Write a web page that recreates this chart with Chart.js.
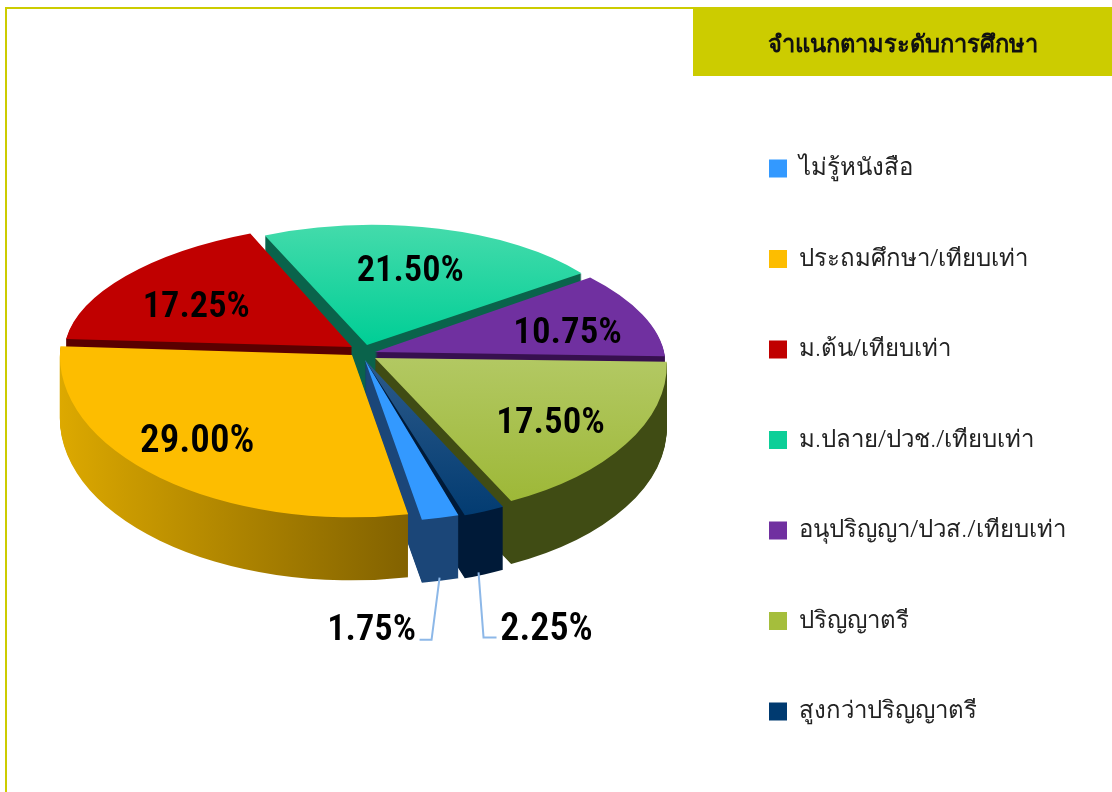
<!DOCTYPE html>
<html lang="th">
<head>
<meta charset="UTF-8">
<title>จำแนกตามระดับการศึกษา</title>
<script src="https://cdn.jsdelivr.net/npm/chart.js"></script>
<style>
  html, body { margin: 0; background: #fff; overflow: hidden; }
  #wrap { position: relative; width: 1112px; height: 792px; }
  #frame { position: absolute; left: 5px; top: 7px; right: 0; bottom: 0; border-left: 2px solid #cccc00; border-top: 2px solid #cccc00; pointer-events: none; }
</style>
</head>
<body>
<div id="wrap">
  <canvas id="pie" width="1112" height="792"></canvas>
  <div id="frame"></div>
</div>
<script>
const titleText = 'จำแนกตามระดับการศึกษา';
const categories = ['ไม่รู้หนังสือ', 'ประถมศึกษา/เทียบเท่า', 'ม.ต้น/เทียบเท่า', 'ม.ปลาย/ปวช./เทียบเท่า', 'อนุปริญญา/ปวส./เทียบเท่า', 'ปริญญาตรี', 'สูงกว่าปริญญาตรี'];
const values = [1.75, 29.0, 17.25, 21.5, 10.75, 17.5, 2.25];
const colors = ['#3399ff', '#fdbd00', '#c00000', '#0ccf98', '#7030a0', '#a5be3c', '#003a70'];
const topLight = ['#3399ff', '#fdbd00', '#c00000', '#44dbab', '#7030a0', '#b2c862', '#2c5a8a'];
const topDark = ['#3399ff', '#fdbd00', '#c00000', '#00ce96', '#7030a0', '#9bb632', '#003a70'];
const wallLeft = ['#1b4678', '#deaa00', '#5a0000', '#0a634b', '#37104f', '#404c14', '#001a38'];
const wallRight = ['#1b4678', '#6e5200', '#5a0000', '#0a634b', '#37104f', '#404c14', '#001a38'];
const labelText = ['1.75%', '29.00%', '17.25%', '21.50%', '10.75%', '17.50%', '2.25%'];

// per slice placement of the fake 3d pie
const explodeX = [13, 0, 0, 15, 23, 23, 13];
const explodeY = [10, 5, -3, -5, 2, 8, 10];
const stretch = [1.15, 0.986, 0.968, 0.8875, 0.98, 0.986, 1];
const skew = [0.139, 0.073, 0.252, 0.156, -0.11, 0, 0];
const flatten = [0.55, 0.548, 0.42, 0.405, 0.42, 0.536, 0.55];
const tilt = 0.02;
const paintOrder = [3, 2, 4, 5, 6, 0, 1];
const labelDx = [-38.6, -39.5, -20, 0, 32, 25, 110];
const labelDy = [177, 11, 0, -3, 7, 17, 181];
const labelSize = [36.5, 39, 36.5, 36.5, 37, 37, 38];
// leader lines of the two labels outside the pie, relative to the label
const leaders = { 0: [[48, 9], [60, 9], [68, -53]], 6: [[-50, 7], [-63, 7], [-68, -58]] };

const pieX = 352, pieY = 350, depth = 63, legendX = 769;

const pie3d = {
  id: 'pie3d',
  afterLayout(chart) {
    const l = chart.legend;
    const dx = legendX - l.options.labels.padding - l.left;
    l.left += dx;
    l.right += dx;
  },
  beforeDraw(chart) {
    const c = chart.ctx;
    c.save();
    c.fillStyle = '#cccc00';
    c.fillRect(693, 8, 419, 68);
    c.fillStyle = '#111';
    c.font = 'bold 23.7px "Noto Sans", sans-serif';
    c.textAlign = 'center';
    c.textBaseline = 'middle';
    c.fillText(titleText, 903, 45);
    c.restore();
  },
  beforeDatasetDraw(chart) {
    const c = chart.ctx;
    const arcs = chart.getDatasetMeta(0).data;
    paintOrder.forEach(i => {
      const a = arcs[i];
      const saved = a.options.backgroundColor;
      const place = dy => {
        c.translate(pieX + explodeX[i], pieY + explodeY[i] + dy);
        c.transform(stretch[i], tilt, -skew[i] * flatten[i], flatten[i], 0, 0);
        c.translate(-a.x, -a.y);
      };
      // wall, stamped from the bottom up
      for (let d = depth; d > 0; d--) {
        c.save();
        place(d);
        const g = c.createLinearGradient(a.x - 300, 0, a.x + 150, 0);
        g.addColorStop(0, wallLeft[i]);
        g.addColorStop(1, wallRight[i]);
        a.options.backgroundColor = g;
        a.draw(c);
        c.restore();
      }
      c.save();
      place(0);
      const mid = (a.startAngle + a.endAngle) / 2;
      const back = Math.sin(mid) < 0;
      const t = c.createLinearGradient(0, back ? a.y - a.outerRadius : a.y, 0, back ? a.y : a.y + a.outerRadius);
      t.addColorStop(0, topLight[i]);
      t.addColorStop(1, topDark[i]);
      a.options.backgroundColor = t;
      a.draw(c);
      c.restore();
      a.options.backgroundColor = saved;
    });
    return false;
  },
  afterDatasetsDraw(chart) {
    const c = chart.ctx;
    const arcs = chart.getDatasetMeta(0).data;
    c.save();
    c.textAlign = 'center';
    c.textBaseline = 'middle';
    arcs.forEach((a, i) => {
      const mid = (a.startAngle + a.endAngle) / 2;
      const r = a.outerRadius * 0.6;
      const dy = Math.sin(mid) * r * flatten[i];
      const x = pieX + explodeX[i] + Math.cos(mid) * r * stretch[i] - skew[i] * dy + labelDx[i];
      const y = pieY + explodeY[i] + dy + labelDy[i];
      c.font = '600 ' + labelSize[i] + 'px "Roboto Condensed", Roboto, sans-serif';
      c.fillStyle = '#000';
      c.fillText(labelText[i], x, y);
      if (leaders[i]) {
        c.strokeStyle = '#8db8e8';
        c.lineWidth = 2;
        c.beginPath();
        leaders[i].forEach(([ox, oy], n) => n ? c.lineTo(x + ox, y + oy) : c.moveTo(x + ox, y + oy));
        c.stroke();
      }
    });
    c.restore();
  }
};

new Chart(document.getElementById('pie'), {
  type: 'pie',
  data: {
    labels: categories,
    datasets: [{ data: values, backgroundColor: colors, borderWidth: 0, radius: 296 }]
  },
  options: {
    responsive: false,
    animation: false,
    rotation: 160.3,
    layout: { padding: { top: 88 } },
    plugins: {
      tooltip: { enabled: false },
      legend: {
        position: 'right',
        align: 'center',
        labels: {
          boxWidth: 18,
          boxHeight: 18,
          padding: 66.5,
          color: '#222',
          font: { family: '"Noto Sans", sans-serif', size: 24, weight: 300 }
        }
      }
    }
  },
  plugins: [pie3d]
});
</script>
</body>
</html>
